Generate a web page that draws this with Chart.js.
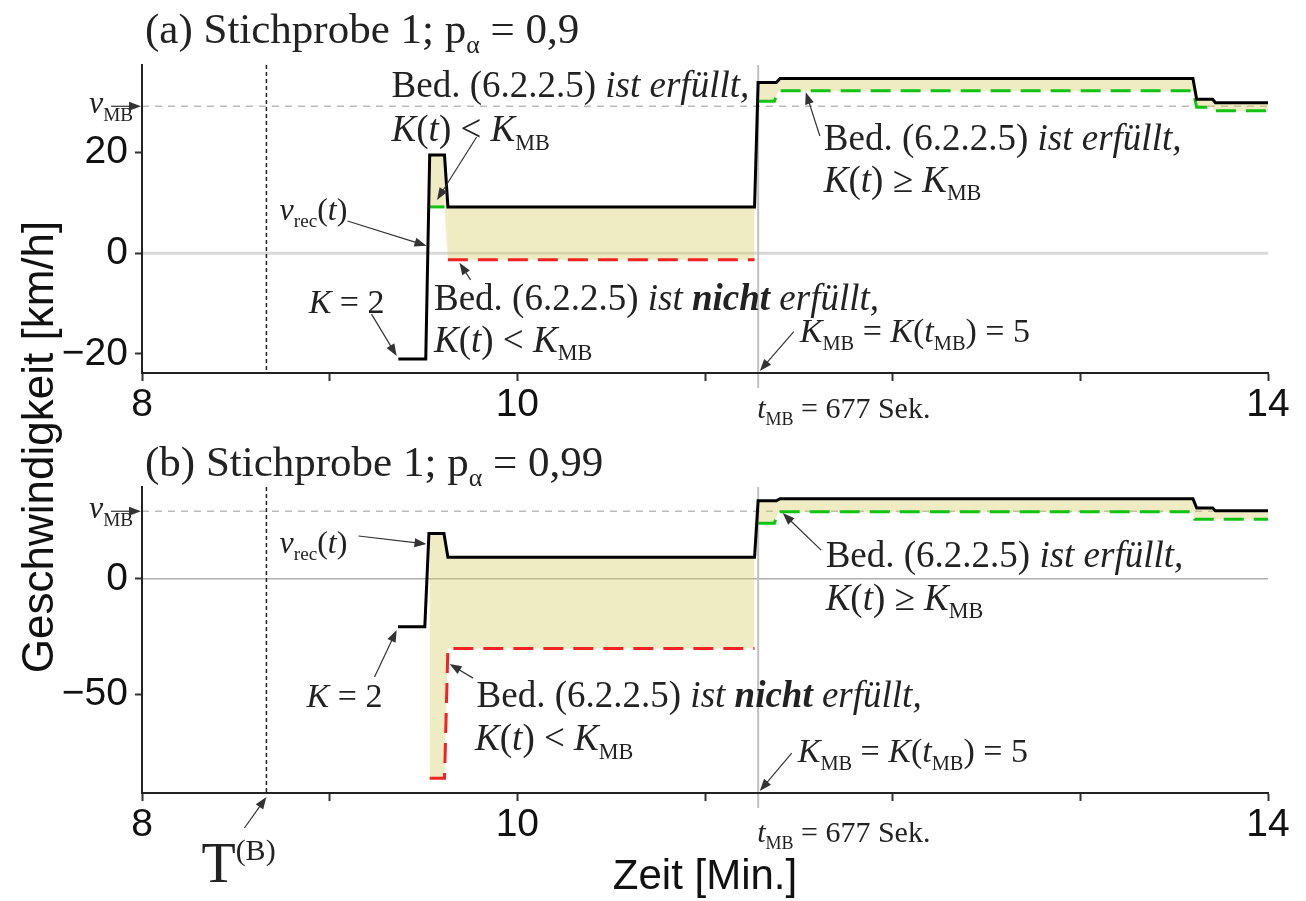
<!DOCTYPE html>
<html>
<head>
<meta charset="utf-8">
<script src="https://cdn.jsdelivr.net/npm/chart.js@4.4.1/dist/chart.umd.min.js"></script>
<style>
  body { margin: 0; background: #fff; }
  #wrap { position: relative; width: 1306px; height: 901px; }
  #wrap canvas { position: absolute; left: 0; top: 0; }
</style>
</head>
<body>
<div id="wrap">
  <canvas id="chartA" width="1306" height="901"></canvas>
  <canvas id="chartB" width="1306" height="901"></canvas>
</div>
<script>
// time axis [min]
const xTicks = [8, 9, 10, 11, 12, 13, 14];
const xTickLabels = ['8', '', '10', '', '', '', '14'];
const tMB = 677 / 60;   // t_MB = 677 s
const tB = 8.663;       // T^(B)
const vMB = 29.2;

// (a) p_alpha = 0,9
const yTicksA = [-20, 0, 20];
const yTickLabelsA = ['\u221220', '0', '20'];
const tRecA = [9.366, 9.512, 9.533, 9.612, 9.630, 11.264, 11.283, 11.380, 11.400, 13.600, 13.620, 13.705, 13.720, 14.0];
const vRecA = [-21.0, -21.0, 19.5, 19.5, 9.2, 9.2, 33.9, 33.9, 34.7, 34.7, 30.6, 30.6, 29.9, 29.9];
const tBoundA = [9.533, 9.612, 9.630, 11.264, 11.274, 11.283, 11.370, 11.390, 13.600, 13.620, 13.700, 13.720, 14.0];
const vBoundA = [9.2, 9.2, -1.3, -1.3, null, 30.2, 30.2, 32.3, 32.3, 29.0, 29.0, 28.3, 28.3];

// (b) p_alpha = 0,99
const yTicksB = [-50, 0];
const yTickLabelsB = ['\u221250', '0'];
const tRecB = [9.364, 9.507, 9.529, 9.609, 9.630, 11.264, 11.283, 11.380, 11.400, 13.600, 13.620, 13.705, 13.720, 14.0];
const vRecB = [-20.8, -20.8, 19.6, 19.6, 9.3, 9.3, 33.7, 33.7, 34.6, 34.6, 30.6, 30.6, 29.4, 29.4];
const tBoundB = [9.533, 9.612, 9.630, 11.264, 11.274, 11.283, 11.370, 11.390, 13.600, 13.610, 14.0];
const vBoundB = [-86.3, -86.3, -30.2, -30.2, null, 24.0, 24.0, 29.0, 29.0, 25.7, 25.7];

const FILL = 'rgba(215, 205, 105, 0.40)';
const GREEN = '#12c412';
const RED = '#f22222';
const SERIF = '"Liberation Serif", "Times New Roman", serif';
const SANS = '"Liberation Sans", Arial, sans-serif';
const INK = '#222';

// text snippets
const bedOk = [['Bed. (6.2.2.5) ', 'n'], ['ist erfüllt,', 'i']];
const bedNot = [['Bed. (6.2.2.5) ', 'n'], ['ist ', 'i'], ['nicht', 'bi'], [' erfüllt,', 'i']];
const kLess = [['K', 'i'], ['(', 'n'], ['t', 'i'], [') < ', 'n'], ['K', 'i'], ['MB', 'sub']];
const kGeq = [['K', 'i'], ['(', 'n'], ['t', 'i'], [') \u2265 ', 'n'], ['K', 'i'], ['MB', 'sub']];
const kMB = [['K', 'i'], ['MB', 'sub'], [' = ', 'n'], ['K', 'i'], ['(', 'n'], ['t', 'i'], ['MB', 'sub'], [') = 5', 'n']];
const vRec = [['v', 'i'], ['rec', 'sub'], ['(', 'n'], ['t', 'i'], [')', 'n']];
const kTwo = [['K', 'i'], [' = 2', 'n']];

// annotation anchors in data coordinates
const notesA = [
  { x: 9.330, y: 31.0, size: 37, runs: bedOk },
  { x: 9.330, y: 22.3, size: 37, runs: kLess },
  { x: 8.733, y: 6.6, size: 32, runs: vRec },
  { x: 8.888, y: -11.9, size: 34, runs: kTwo },
  { x: 9.556, y: -11.3, size: 37, runs: bedNot },
  { x: 9.556, y: -19.6, size: 37, runs: kLess },
  { x: 11.505, y: -17.6, size: 34, runs: kMB },
  { x: 11.633, y: 20.5, size: 37, runs: bedOk },
  { x: 11.633, y: 12.2, size: 37, runs: kGeq }
];
const arrowsA = [
  [9.783, 23.1, 9.572, 10.6],
  [9.095, 6.4, 9.516, 1.5],
  [9.223, -12.1, 9.357, -20.4],
  [9.751, -5.3, 9.692, -1.9],
  [11.473, -15.6, 11.292, -23.4],
  [11.612, 23.3, 11.537, 32.0]
];
const notesB = [
  { x: 8.733, y: 11.1, size: 32, runs: vRec },
  { x: 8.877, y: -55.5, size: 34, runs: kTwo },
  { x: 9.783, y: -55.5, size: 37, runs: bedNot },
  { x: 9.775, y: -74.1, size: 37, runs: kLess },
  { x: 11.494, y: -79.3, size: 34, runs: kMB },
  { x: 11.643, y: 5.1, size: 37, runs: bedOk },
  { x: 11.643, y: -13.5, size: 37, runs: kGeq }
];
const arrowsB = [
  [9.154, 18.5, 9.516, 15.0],
  [9.239, -42.5, 9.357, -22.2],
  [9.764, -43.0, 9.639, -36.9],
  [11.462, -75.4, 11.292, -91.8],
  [11.619, 12.4, 11.414, 28.4]
];

function richText(ctx, x, y, runs, size) {
  let cx = x;
  runs.forEach(([txt, st]) => {
    let s = size, dy = 0;
    const italic = st === 'i' || st === 'bi';
    const bold = st === 'b' || st === 'bi';
    if (st === 'sub') { s = size * 0.6; dy = size * 0.23; }
    if (st === 'sup') { s = size * 0.55; dy = -size * 0.42; }
    ctx.font = (italic ? 'italic ' : '') + (bold ? 'bold ' : '') + s + 'px ' + SERIF;
    ctx.fillText(txt, cx, y + dy);
    cx += ctx.measureText(txt).width;
  });
}

function seg(ctx, x1, y1, x2, y2) {
  ctx.beginPath();
  ctx.moveTo(x1, y1);
  ctx.lineTo(x2, y2);
  ctx.stroke();
}

function arrow(ctx, x1, y1, x2, y2) {
  const ang = Math.atan2(y2 - y1, x2 - x1);
  const L = 12, W = 4.5;
  ctx.strokeStyle = '#333';
  ctx.fillStyle = '#333';
  ctx.lineWidth = 1.2;
  seg(ctx, x1, y1, x2 - Math.cos(ang) * L * 0.8, y2 - Math.sin(ang) * L * 0.8);
  ctx.beginPath();
  ctx.moveTo(x2, y2);
  ctx.lineTo(x2 - Math.cos(ang) * L - Math.sin(ang) * W, y2 - Math.sin(ang) * L + Math.cos(ang) * W);
  ctx.lineTo(x2 - Math.cos(ang) * L + Math.sin(ang) * W, y2 - Math.sin(ang) * L - Math.cos(ang) * W);
  ctx.closePath();
  ctx.fill();
}

// sign of the bound decides green (fulfilled) / red (not fulfilled)
function boundColor(c) {
  const a = c.p0.parsed.y, b = c.p1.parsed.y;
  if ((a > 0) !== (b > 0)) return 'rgba(0,0,0,0)';
  return a > 0 ? GREEN : RED;
}

function overlay(o) {
  return {
    id: 'overlay',
    beforeDraw(chart) {
      const { ctx, chartArea: a, scales: { x, y } } = chart;
      ctx.save();
      const y0 = y.getPixelForValue(0);
      ctx.strokeStyle = o.zeroColor;
      ctx.lineWidth = o.zeroWidth;
      seg(ctx, a.left, y0, a.right, y0);
      const yv = y.getPixelForValue(vMB);
      ctx.setLineDash([7, 6]);
      ctx.strokeStyle = '#bbb';
      ctx.lineWidth = 1.5;
      seg(ctx, a.left, yv, a.right, yv);
      const xb = x.getPixelForValue(tB);
      ctx.setLineDash([4, 3]);
      ctx.strokeStyle = '#222';
      ctx.lineWidth = 1.5;
      seg(ctx, xb, a.top, xb, a.bottom);
      ctx.setLineDash([]);
      const xm = x.getPixelForValue(tMB);
      ctx.strokeStyle = '#c0c0c0';
      ctx.lineWidth = 2;
      seg(ctx, xm, a.top, xm, a.bottom + 15);
      ctx.restore();
    },
    afterDraw(chart) {
      const { ctx, chartArea: a, scales: { x, y } } = chart;
      ctx.save();
      ctx.fillStyle = INK;
      ctx.textBaseline = 'alphabetic';
      ctx.textAlign = 'left';
      // panel title
      richText(ctx, a.left + 3, a.top - o.titleGap, [[o.title, 'n'], ['\u03b1', 'sub'], [o.titleEnd, 'n']], 43);
      o.notes.forEach(n => {
        ctx.fillStyle = INK;
        richText(ctx, x.getPixelForValue(n.x), y.getPixelForValue(n.y), n.runs, n.size);
      });
      o.arrows.forEach(p => arrow(ctx, x.getPixelForValue(p[0]), y.getPixelForValue(p[1]),
                                       x.getPixelForValue(p[2]), y.getPixelForValue(p[3])));
      // v_MB label on the y axis
      const yv = y.getPixelForValue(vMB);
      ctx.fillStyle = INK;
      richText(ctx, a.left - 53, yv + 7, [['v', 'i'], ['MB', 'sub']], 32);
      arrow(ctx, a.left - 31, yv, a.left - 1, yv);
      // t_MB label under the axis
      ctx.fillStyle = INK;
      richText(ctx, x.getPixelForValue(tMB) - 1, a.bottom + o.tmbGap, [['t', 'i'], ['MB', 'sub'], [' = 677 Sek.', 'n']], 30);
      if (o.extras) o.extras(chart);
      ctx.restore();
    }
  };
}

function makeChart(id, o) {
  return new Chart(document.getElementById(id), {
    type: 'line',
    data: {
      datasets: [
        {
          data: o.tRec.map((t, i) => ({ x: t, y: o.vRec[i] })),
          borderColor: '#000', borderWidth: 3, borderJoinStyle: 'miter',
          pointRadius: 0, order: 0,
          fill: { target: 1, above: FILL, below: FILL }
        },
        {
          data: o.tBound.map((t, i) => ({ x: t, y: o.vBound[i] })),
          borderColor: GREEN, borderWidth: 3, borderDash: [20, 10],
          pointRadius: 0, order: 1, fill: false,
          segment: { borderColor: boundColor }
        }
      ]
    },
    options: {
      responsive: false,
      animation: false,
      events: [],
      layout: { padding: { left: 0, right: 38, top: o.top, bottom: o.bottomPad } },
      plugins: {
        legend: { display: false },
        tooltip: { enabled: false },
        filler: { drawTime: 'beforeDatasetsDraw' }
      },
      scales: {
        x: {
          type: 'linear', min: 8, max: 14,
          afterFit: s => { s.height = 57; },
          afterBuildTicks: s => { s.ticks = xTicks.map(v => ({ value: v })); },
          ticks: {
            autoSkip: false, maxRotation: 0, padding: 1, color: '#111',
            font: { family: SANS, size: 39 },
            callback: v => xTickLabels[xTicks.indexOf(v)]
          },
          grid: { drawOnChartArea: false, drawTicks: true, tickLength: 8, tickColor: '#333', tickWidth: 2 },
          border: { display: true, color: '#222', width: 2 }
        },
        y: {
          type: 'linear', min: o.yMin, max: o.yMax,
          afterFit: s => { s.width = 142; },
          afterBuildTicks: s => { s.ticks = o.yTicks.map(v => ({ value: v })); },
          ticks: {
            padding: 7, color: '#111',
            font: { family: SANS, size: 39 },
            callback: v => o.yTickLabels[o.yTicks.indexOf(v)]
          },
          grid: { drawOnChartArea: false, drawTicks: true, tickLength: 7, tickColor: '#333', tickWidth: 2 },
          border: { display: true, color: '#222', width: 2 }
        }
      }
    },
    plugins: [overlay(o)]
  });
}

makeChart('chartA', {
  tRec: tRecA, vRec: vRecA, tBound: tBoundA, vBound: vBoundA,
  yTicks: yTicksA, yTickLabels: yTickLabelsA, yMin: -23.8, yMax: 37.4,
  top: 65, bottomPad: 901 - 373 - 57,
  zeroColor: '#d8d8d8', zeroWidth: 3,
  title: '(a) Stichprobe 1; p', titleEnd: ' = 0,9', titleGap: 22, tmbGap: 45,
  notes: notesA, arrows: arrowsA
});

makeChart('chartB', {
  tRec: tRecB, vRec: vRecB, tBound: tBoundB, vBound: vBoundB,
  yTicks: yTicksB, yTickLabels: yTickLabelsB, yMin: -92.7, yMax: 39.7,
  top: 487, bottomPad: 901 - 793 - 57,
  zeroColor: '#b0b0b0', zeroWidth: 1.5,
  title: '(b) Stichprobe 1; p', titleEnd: ' = 0,99', titleGap: 11, tmbGap: 49,
  notes: notesB, arrows: arrowsB,
  extras(chart) {
    const { ctx, chartArea: a, scales: { x } } = chart;
    const xb = x.getPixelForValue(tB);
    // T^(B)
    ctx.fillStyle = INK;
    ctx.font = '56px ' + SERIF;
    ctx.fillText('T', xb - 65, a.bottom + 89);
    const w = ctx.measureText('T').width;
    ctx.font = '30px ' + SERIF;
    ctx.fillText('(B)', xb - 65 + w, a.bottom + 67);
    arrow(ctx, xb - 22, a.bottom + 35, xb, a.bottom + 4);
    // axis titles
    ctx.fillStyle = '#111';
    ctx.textAlign = 'center';
    ctx.font = '42px ' + SANS;
    ctx.fillText('Zeit [Min.]', (a.left + a.right) / 2, 889);
    ctx.save();
    ctx.translate(53, 447);
    ctx.rotate(-Math.PI / 2);
    ctx.font = '44px ' + SANS;
    ctx.fillText('Geschwindigkeit [km/h]', 0, 0);
    ctx.restore();
  }
});
</script>
</body>
</html>
